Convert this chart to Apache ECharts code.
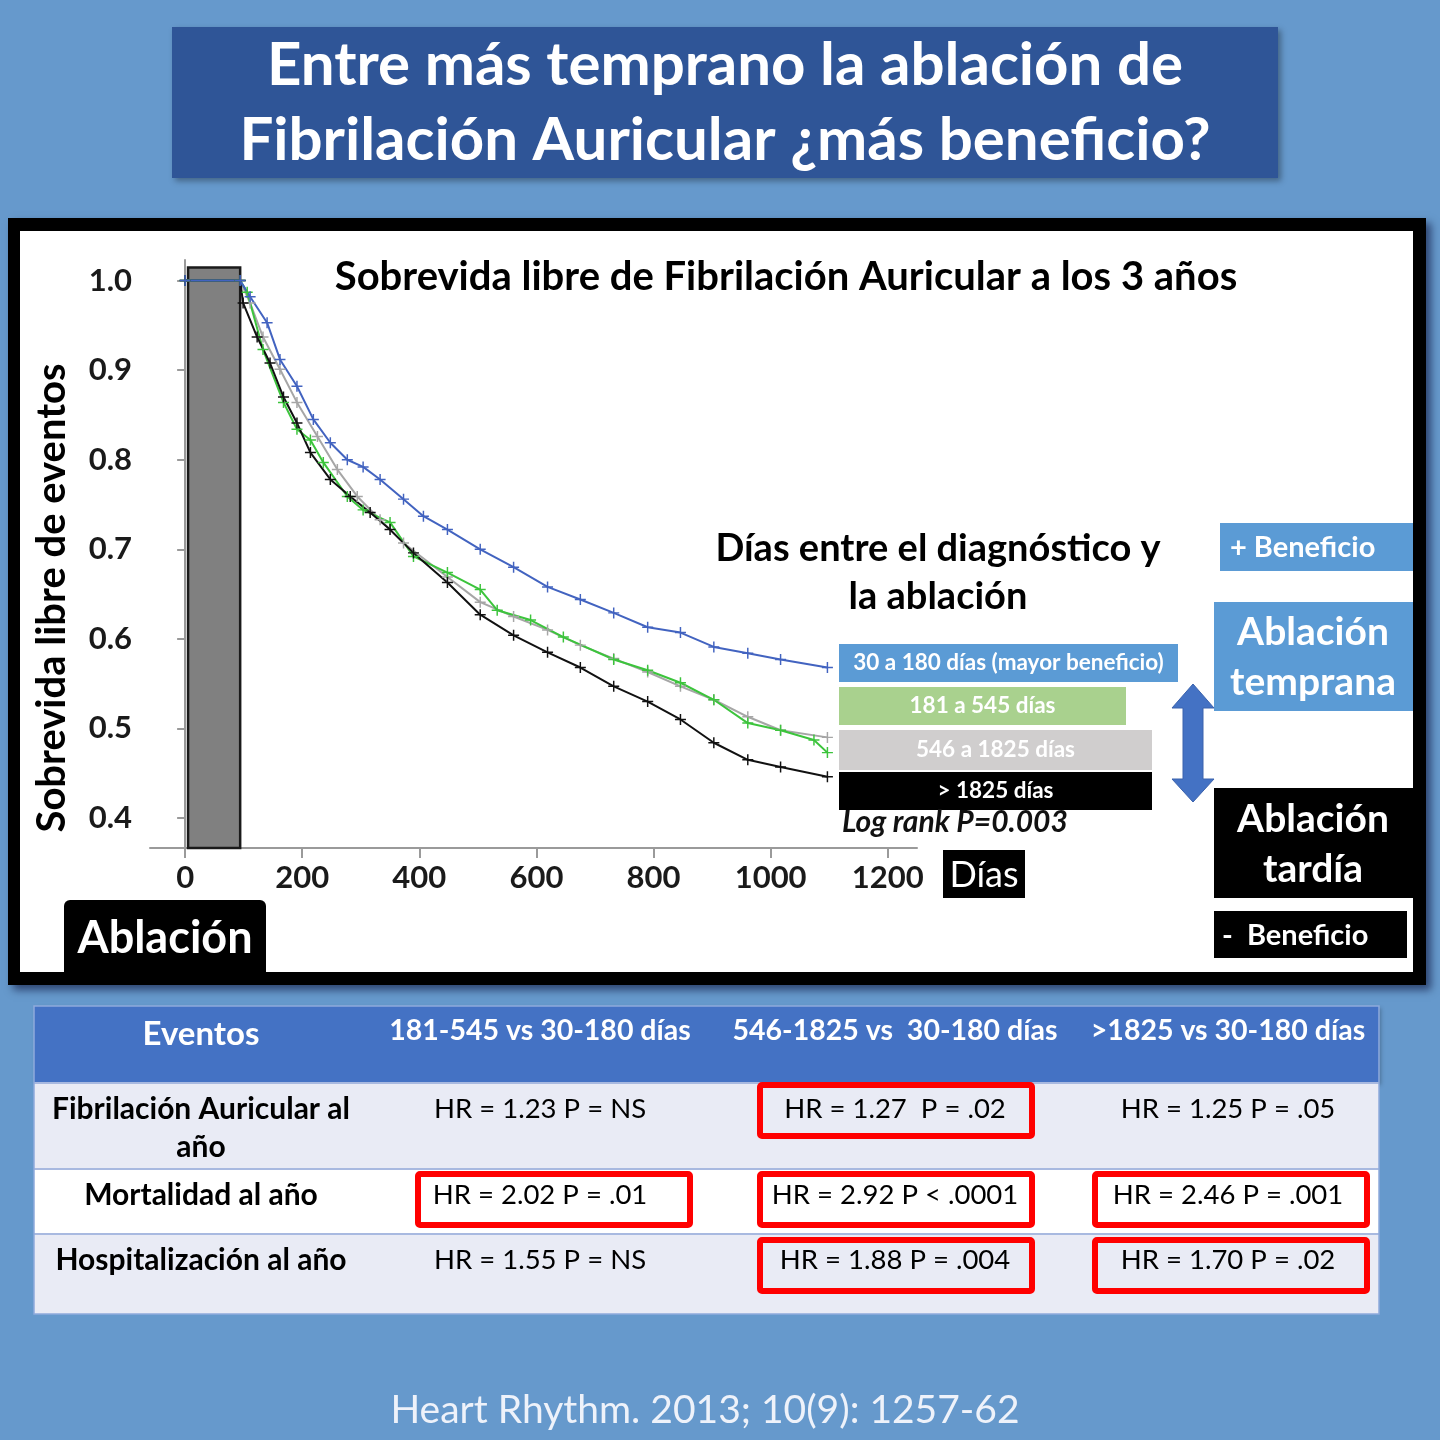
<!DOCTYPE html>
<html>
<head>
<meta charset="utf-8">
<script src="https://cdn.jsdelivr.net/npm/echarts@6/dist/echarts.min.js"></script>
<style>
html,body{margin:0;padding:0;background:#6699cc}
#chart{width:1440px;height:1440px}
</style>
</head>
<body>
<div id="chart"></div>
<script>
// curvas Kaplan-Meier (días, sobrevida)
var blueDays = [0, 94, 111, 140, 162, 191, 219, 248, 277, 304, 333, 373, 407, 448, 504, 561, 619, 675, 732, 790, 846, 903, 961, 1017, 1097];
var blueSurv = [1, 1, 0.982, 0.953, 0.912, 0.882, 0.845, 0.819, 0.800, 0.792, 0.778, 0.756, 0.737, 0.722, 0.700, 0.680, 0.658, 0.644, 0.629, 0.613, 0.607, 0.591, 0.584, 0.577, 0.568];
var greenDays = [0, 94, 106, 133, 168, 191, 214, 236, 277, 304, 350, 390, 448, 504, 533, 590, 646, 732, 790, 846, 903, 961, 1017, 1074, 1097];
var greenSurv = [1, 1, 0.987, 0.923, 0.864, 0.834, 0.822, 0.797, 0.759, 0.744, 0.730, 0.692, 0.674, 0.655, 0.632, 0.621, 0.602, 0.577, 0.565, 0.551, 0.532, 0.506, 0.498, 0.487, 0.473];
var grayDays = [0, 94, 111, 133, 162, 191, 226, 260, 294, 333, 373, 448, 504, 561, 619, 675, 732, 790, 846, 903, 961, 1017, 1097];
var graySurv = [1, 1, 0.975, 0.937, 0.901, 0.864, 0.826, 0.789, 0.759, 0.733, 0.707, 0.669, 0.641, 0.625, 0.610, 0.593, 0.578, 0.563, 0.547, 0.532, 0.513, 0.498, 0.490];
var blackDays = [0, 94, 99, 123, 145, 168, 191, 214, 248, 282, 316, 350, 390, 448, 504, 561, 619, 675, 732, 790, 846, 903, 961, 1017, 1097];
var blackSurv = [1, 1, 0.975, 0.937, 0.908, 0.870, 0.841, 0.808, 0.778, 0.759, 0.741, 0.722, 0.696, 0.663, 0.627, 0.604, 0.585, 0.568, 0.547, 0.530, 0.510, 0.484, 0.465, 0.457, 0.446];

var xTicks = [0, 200, 400, 600, 800, 1000, 1200];
var yTicks = [0.4, 0.5, 0.6, 0.7, 0.8, 0.9, 1.0];
var ablationWindow = [5, 94]; // barra gris

var legendNames = ['30 a 180 días (mayor beneficio)', '181 a 545 días', '546 a 1825 días', '> 1825 días'];

// tabla
var tableHeader = ['Eventos', '181-545 vs 30-180 días', '546-1825 vs  30-180 días', '>1825 vs 30-180 días'];
var rowLabels = ['Fibrilación Auricular al\naño', 'Mortalidad al año', 'Hospitalización al año'];
var col1 = ['HR = 1.23 P = NS', 'HR = 2.02 P = .01', 'HR = 1.55 P = NS'];
var col2 = ['HR = 1.27  P = .02', 'HR = 2.92 P < .0001', 'HR = 1.88 P = .004'];
var col3 = ['HR = 1.25 P = .05', 'HR = 2.46 P = .001', 'HR = 1.70 P = .02'];
var significant = [[false, true, false], [true, true, true], [false, true, true]];

var FONT = 'Lato, "Open Sans", sans-serif';
var cross = 'path://M-0.8,-6H0.8V6H-0.8Z M-6,-0.8H6V0.8H-6Z';

function pairs(d, s) {
    var out = [];
    for (var i = 0; i < d.length; i++) out.push([d[i], s[i]]);
    return out;
}
function kmSeries(name, color, d, s, extra) {
    var o = {
        name: name,
        type: 'line',
        data: pairs(d, s),
        symbol: cross,
        symbolSize: 11,
        showAllSymbol: true,
        lineStyle: {color: color, width: 2},
        itemStyle: {color: color},
        animation: false,
        silent: true
    };
    if (extra) for (var k in extra) o[k] = extra[k];
    return o;
}
function txt(text, x, y, size, color, weight, align, extra) {
    var e = {
        type: 'text',
        z: 50,
        style: {
            text: text, x: x, y: y,
            fill: color,
            font: (weight || 'bold') + ' ' + size + 'px ' + FONT,
            textAlign: align || 'center',
            textVerticalAlign: 'middle'
        }
    };
    if (extra) for (var k in extra) e[k] = extra[k];
    return e;
}
function multi(text, x, y, size, color, lh) {
    return {type: 'text', z: 50, style: {text: text, x: x, y: y, fill: color, font: 'bold ' + size + 'px ' + FONT,
        textAlign: 'center', textVerticalAlign: 'middle', lineHeight: lh}};
}
function box(x, y, w, h, fill, extra) {
    var e = {type: 'rect', z: 40, shape: {x: x, y: y, width: w, height: h}, style: {fill: fill}};
    if (extra) for (var k in extra) e[k] = extra[k];
    return e;
}

var g = [];
// fondo: título y marco
g.push(box(172, 27, 1106, 151, '#2f5597', {z: -5, style: {fill: '#2f5597', shadowBlur: 6, shadowOffsetX: 3, shadowOffsetY: 3, shadowColor: 'rgba(0,0,0,0.35)'}}));
g.push(txt('Entre más temprano la ablación de', 725, 66, 60, '#ffffff'));
g.push(txt('Fibrilación Auricular ¿más beneficio?', 725, 141, 60, '#ffffff'));
g.push(box(8, 218, 1418, 767, '#000', {z: -5, style: {fill: '#000', shadowBlur: 8, shadowOffsetX: 5, shadowOffsetY: 5, shadowColor: 'rgba(0,0,40,0.55)'}}));
g.push(box(20, 231, 1393, 741, '#fff', {z: -4}));

// textos de la gráfica
g.push(txt('Sobrevida libre de Fibrilación Auricular a los 3 años', 786, 277, 40, '#000'));
g.push({type: 'text', z: 50, x: 52, y: 598, rotation: Math.PI / 2,
    style: {text: 'Sobrevida libre de eventos', x: 0, y: 0, fill: '#000', font: 'bold 40px ' + FONT, textAlign: 'center', textVerticalAlign: 'middle'}});
g.push(multi('Días entre el diagnóstico y\nla ablación', 938, 573, 38, '#000', 48));

// leyenda
var legendBoxes = [[839, 644, 339, 38, '#5b9bd5'], [839, 687, 287, 38, '#a9d18e'], [839, 730, 313, 40, '#d0cece'], [839, 772, 313, 38, '#000000']];
for (var i = 0; i < legendBoxes.length; i++) {
    var b = legendBoxes[i];
    g.push(box(b[0], b[1], b[2], b[3], b[4]));
    g.push(txt(legendNames[i], b[0] + b[2] / 2, b[1] + b[3] / 2, 22.5, '#fff'));
}
g.push(txt('Log rank P=0.003', 842, 822, 30, '#111', 'italic bold', 'left'));
g.push(box(943, 850, 82, 48, '#000'));
g.push(txt('Días', 984, 875, 36, '#fff', 'normal'));
g.push(box(64, 900, 202, 72, '#000', {shape: {x: 64, y: 900, width: 202, height: 72, r: [6, 6, 0, 0]}}));
g.push(txt('Ablación', 165, 938, 45, '#fff'));

// lado derecho
g.push(box(1220, 523, 193, 48, '#5b9bd5'));
g.push(txt('+ Beneficio', 1230, 548, 29, '#fff', 'bold', 'left'));
g.push(box(1214, 602, 199, 109, '#5b9bd5'));
g.push(multi('Ablación\ntemprana', 1313, 657, 39, '#fff', 50));
g.push(box(1214, 788, 199, 110, '#000'));
g.push(multi('Ablación\ntardía', 1313, 844, 39, '#fff', 50));
g.push(box(1214, 911, 193, 47, '#000'));
g.push(txt('-  Beneficio', 1222, 936, 29, '#fff', 'bold', 'left'));
g.push({
    type: 'polygon', z: 45,
    shape: {points: [[1193, 684], [1214, 708], [1203, 708], [1203, 779], [1214, 779], [1193, 802], [1172, 779], [1183, 779], [1183, 708], [1172, 708]]},
    style: {fill: '#4472c4', stroke: '#3a62ad', lineWidth: 1}
});

// tabla
var tX = 34, tW = 1345;
g.push(box(tX, 1006, tW, 77, '#4472c4', {style: {fill: '#4472c4', shadowBlur: 4, shadowOffsetX: 2, shadowOffsetY: 2, shadowColor: 'rgba(0,0,0,0.25)'}}));
g.push(box(tX, 1083, tW, 86, '#e9ebf5'));
g.push(box(tX, 1169, tW, 65, '#ffffff'));
g.push(box(tX, 1234, tW, 80, '#e9ebf5'));
[1083, 1169, 1234].forEach(function (yy) {
    g.push({type: 'line', z: 42, shape: {x1: tX, y1: yy, x2: tX + tW, y2: yy}, style: {stroke: '#a8b9e0', lineWidth: 2}});
});
g.push({type: 'rect', z: 42, shape: {x: tX, y: 1006, width: tW, height: 308}, style: {fill: null, stroke: '#8faadc', lineWidth: 1.5}});
var colX = [201, 540, 895, 1228];
g.push(txt(tableHeader[0], colX[0], 1034, 33, '#fff'));
for (var c = 1; c < 4; c++) g.push(txt(tableHeader[c], colX[c], 1031, 28.5, '#fff'));
var rowY = [1109, 1195, 1260];
var cols = [col1, col2, col3];
for (var r = 0; r < 3; r++) {
    g.push({type: 'text', z: 50, style: {text: rowLabels[r], x: colX[0], y: rowY[r] - 19, fill: '#000', font: 'bold 30px ' + FONT, textAlign: 'center', textVerticalAlign: 'top', lineHeight: 38}});
    for (var c2 = 0; c2 < 3; c2++) {
        g.push(txt(cols[c2][r], colX[c2 + 1], rowY[r], 27.5, '#000', 'normal'));
    }
}
var redX = [554, 896, 1231], redY = [1085, 1174, 1240];
for (var r2 = 0; r2 < 3; r2++) {
    for (var c3 = 0; c3 < 3; c3++) {
        if (!significant[r2][c3]) continue;
        g.push({type: 'rect', z: 55, shape: {x: redX[c3] - 136, y: redY[r2], width: 272, height: 51, r: 2}, style: {fill: null, stroke: '#ff0000', lineWidth: 6}});
    }
}

g.push(txt('Heart Rhythm. 2013; 10(9): 1257-62', 705, 1410, 39, '#eef2fa', 'normal'));

var chart = echarts.init(document.getElementById('chart'));
chart.setOption({
    backgroundColor: '#6699cc',
    animation: false,
    textStyle: {fontFamily: FONT},
    grid: {left: 150, top: 260, right: 523, bottom: 592, containLabel: false, outerBoundsMode: 'none'},
    xAxis: {
        type: 'value', min: -60, max: 1250,
        axisLine: {show: true, lineStyle: {color: '#9a9a9a', width: 2}},
        axisTick: {show: true, customValues: xTicks, length: 10, lineStyle: {color: '#9a9a9a', width: 2}},
        axisLabel: {customValues: xTicks, fontSize: 31, fontWeight: 'bold', color: '#1a1a1a', margin: 14, fontFamily: FONT,
            formatter: function (v) { return String(v); }},
        splitLine: {show: false}
    },
    yAxis: {
        type: 'value', min: 0.3665, max: 1.023,
        axisLine: {show: true, lineStyle: {color: '#9a9a9a', width: 2}},
        axisTick: {show: true, customValues: yTicks, length: 8, lineStyle: {color: '#9a9a9a', width: 2}},
        axisLabel: {customValues: yTicks, fontSize: 31, fontWeight: 'bold', color: '#1a1a1a', margin: 18, fontFamily: FONT,
            formatter: function (v) { return v.toFixed(1); }},
        splitLine: {show: false}
    },
    graphic: {elements: g},
    series: [
        kmSeries(legendNames[2], '#a6a6a6', grayDays, graySurv, {
            markArea: {
                silent: true,
                itemStyle: {color: '#808080', borderColor: '#1a1a1a', borderWidth: 2.5, opacity: 1},
                data: [[{xAxis: ablationWindow[0], yAxis: 1.0145}, {xAxis: ablationWindow[1], yAxis: 0.3665}]]
            }
        }),
        kmSeries(legendNames[1], '#3cc43c', greenDays, greenSurv),
        kmSeries(legendNames[3], '#111111', blackDays, blackSurv),
        kmSeries(legendNames[0], '#4263c0', blueDays, blueSurv)
    ]
});
</script>
</body>
</html>
